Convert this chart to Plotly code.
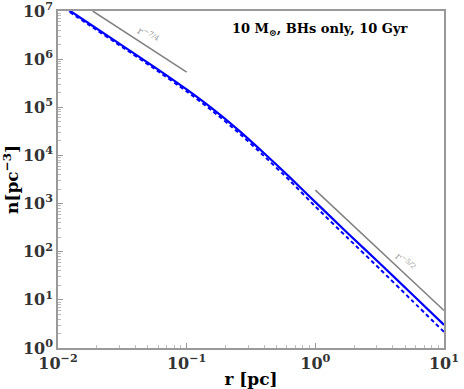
import numpy as np
import plotly.graph_objects as go

# density profile (r in pc, n in pc^-3)
r_vals = [0.01, 0.01778, 0.03162, 0.05623, 0.1, 0.1585, 0.2512, 0.3981, 0.631,
          1.0, 1.778, 3.162, 5.623, 10.0]
n_solid = [1.479e7, 5.31e6, 1.905e6, 6.84e5, 2.344e5, 9.33e4, 3.39e4, 1.122e4, 3548,
           1072, 245.5, 57.5, 13.2, 3.02]
n_dashed = [1.38e7, 4.95e6, 1.778e6, 6.31e5, 2.138e5, 8.41e4, 3.02e4, 9772, 3020,
            871, 195, 44.2, 9.77, 2.16]

# power-law guide lines
r_guide_in = [0.0186, 0.1]
n_guide_in = [1.0e7, 5.4e5]
r_guide_out = [1.0, 10.0]
n_guide_out = [1900.0, 6.0]

x_ticks = [0.01, 0.1, 1, 10]
x_ticktext = ["<b>10<sup>−2</sup></b>", "<b>10<sup>−1</sup></b>", "<b>10<sup>0</sup></b>", "<b>10<sup>1</sup></b>"]
y_ticks = [1, 10, 100, 1e3, 1e4, 1e5, 1e6, 1e7]
y_ticktext = ["<b>10<sup>%d</sup></b>" % i for i in range(8)]

# minor ticks: 2..9 in each decade
x_minor = [m * 10.0 ** d for d in range(-2, 1) for m in range(2, 10)]
y_minor = [m * 10.0 ** d for d in range(0, 7) for m in range(2, 10)]

FONT = "DejaVu Serif"

fig = go.Figure()
fig.add_scatter(x=r_guide_in, y=n_guide_in, mode="lines",
                line=dict(color="#808080", width=1.5), showlegend=False)
fig.add_scatter(x=r_guide_out, y=n_guide_out, mode="lines",
                line=dict(color="#808080", width=1.5), showlegend=False)
fig.add_scatter(x=r_vals, y=n_dashed, mode="lines",
                line=dict(color="#0000ff", width=2, dash="4px,3px", shape="spline", smoothing=0.6),
                showlegend=False)
fig.add_scatter(x=r_vals, y=n_solid, mode="lines",
                line=dict(color="#0000ff", width=2.2, shape="spline", smoothing=0.6),
                showlegend=False)

# labels on the guide lines
fig.add_annotation(x=-1.30, y=6.50, text="r<sup>−7/4</sup>", showarrow=False,
                   textangle=33, font=dict(family=FONT, size=10, color="#999999"))
fig.add_annotation(x=0.70, y=1.78, text="r<sup>−5/2</sup>", showarrow=False,
                   textangle=43, font=dict(family=FONT, size=10, color="#999999"))

fig.add_annotation(xref="paper", yref="paper", x=0.446, y=0.944, xanchor="left", yanchor="middle",
                   text="<b>10 M<sub>⊙</sub>, BHs only, 10 Gyr</b>", showarrow=False,
                   font=dict(family=FONT, size=13, color="black"))

axis_common = dict(
    showgrid=False, zeroline=False, showline=True, linecolor="#999999", linewidth=1.5,
    mirror=True, ticks="inside", ticklen=5, tickcolor="#999999", automargin=False,
    ticklabeloverflow="allow",
    tickfont=dict(family=FONT, size=16, color="#333333"),
)

fig.update_xaxes(type="log", range=[-2, 1], tickvals=x_ticks, ticktext=x_ticktext,
                 minor=dict(ticks="inside", ticklen=3, tickcolor="#bbbbbb", tickvals=x_minor, showgrid=False),
                 title=dict(text="<b>r [pc]</b>", font=dict(family=FONT, size=17, color="black"), standoff=2),
                 **axis_common)
fig.update_yaxes(type="log", range=[0, 7], tickvals=y_ticks, ticktext=y_ticktext,
                 minor=dict(ticks="inside", ticklen=3, tickcolor="#bbbbbb", tickvals=y_minor, showgrid=False),
                 title=dict(text="<b>n[pc<sup>−3</sup>]</b>", font=dict(family=FONT, size=17, color="black"), standoff=2),
                 **axis_common)

fig.update_layout(
    width=464, height=389,
    margin=dict(l=58, r=20, t=11, b=41),
    plot_bgcolor="white", paper_bgcolor="white",
)

# drop the browser's default page margin so the figure sits at the window's corner
fig.write_html("out.html", config={"displayModeBar": False},
               post_script="document.body.style.margin='0px';")
